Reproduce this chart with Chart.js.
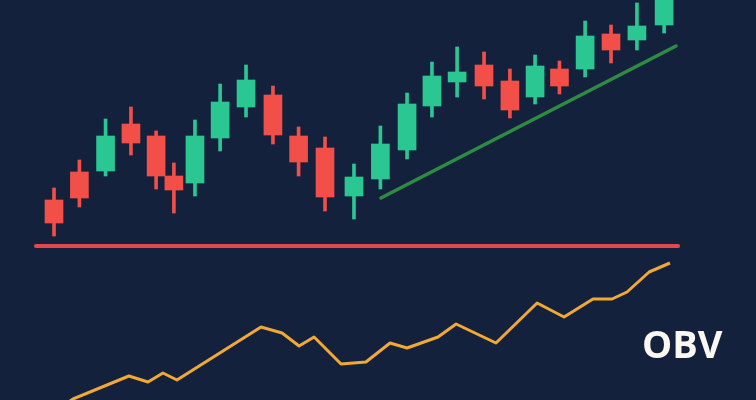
<!DOCTYPE html>
<html lang="en">
<head>
  <meta charset="UTF-8" />
  <title>OBV</title>
  <script src="https://cdn.jsdelivr.net/npm/chart.js"></script>
  <style>
    html, body {
      margin: 0;
      padding: 0;
      background-color: #14213d;
    }
    canvas {
      display: block;
    }
  </style>
</head>
<body>
  <canvas id="chart" width="756" height="400"></canvas>

  <script>
    // candles: day, open, high, low, close
    const days  = [1.00, 2.00, 3.03, 4.03, 5.02, 5.72, 6.55, 7.54, 8.56, 9.62, 10.63, 11.67, 12.81,
                   13.85, 14.90, 15.88, 16.87, 17.93, 18.95, 19.94, 20.90, 21.91, 22.93, 23.95, 25.02];
    const opens = [60.0, 65.6, 65.8, 75.2, 72.8, 64.8, 63.4, 72.4, 78.6, 81.0, 72.8, 70.4, 60.8,
                   64.2, 70.0, 78.8, 83.6, 87.0, 83.8, 80.6, 86.2, 86.2, 93.2, 92.0, 95.0];
    const highs = [62.4, 68.0, 76.2, 78.6, 73.8, 67.4, 76.0, 83.2, 87.0, 82.8, 74.6, 72.6, 67.2,
                   74.8, 81.4, 87.6, 90.6, 89.6, 86.2, 89.0, 87.8, 95.8, 95.0, 99.4, 101.6];
    const lows  = [52.8, 58.6, 64.8, 69.0, 62.2, 57.4, 60.8, 69.8, 76.6, 71.2, 64.8, 57.8, 56.2,
                   62.2, 68.2, 76.6, 80.6, 80.2, 76.4, 79.2, 81.2, 84.6, 87.4, 90.0, 93.4];
    const closes = [55.4, 60.4, 72.8, 71.4, 64.8, 62.0, 72.8, 79.6, 84.0, 73.0, 67.6, 60.6, 64.6,
                    71.2, 79.2, 84.8, 85.6, 82.8, 78.0, 86.8, 82.8, 92.8, 90.0, 94.8, 100.8];

    // support and trend lines
    const supportDays = [0.29, 25.57];
    const supportPrice = [50.8, 50.8];
    const trendDays = [13.87, 25.49];
    const trendPrice = [60.4, 90.8];

    // on-balance volume
    const obvDays = [1.45, 1.75, 3.95, 4.70, 5.29, 5.84, 9.15, 9.98, 10.65, 11.24, 12.30, 13.28,
                     14.23, 14.90, 16.12, 16.83, 18.40, 20.02, 21.08, 22.22, 22.97, 23.56, 24.43, 25.25];
    const obvValues = [-40, 10, 240, 180, 270, 200, 730, 670, 540, 630, 360, 380,
                       570, 520, 630, 760, 570, 970, 830, 1010, 1010, 1080, 1280, 1370];

    const UP = '#2ac792';
    const DOWN = '#f14f48';

    const candleColors = opens.map((o, i) => closes[i] >= o ? UP : DOWN);

    const labelPlugin = {
      id: 'obvLabel',
      afterDraw(chart) {
        const ctx = chart.ctx;
        ctx.save();
        ctx.fillStyle = '#fbf7f2';
        ctx.font = 'bold 38px "Open Sans"';
        ctx.textBaseline = 'alphabetic';
        ctx.fillText('OBV', 642, 358);
        ctx.restore();
      }
    };

    new Chart(document.getElementById('chart').getContext('2d'), {
      type: 'bar',
      data: {
        datasets: [
          {
            type: 'line',
            data: supportDays.map((d, i) => ({ x: d, y: supportPrice[i] })),
            yAxisID: 'y',
            borderColor: '#e5474c',
            borderWidth: 4,
            borderCapStyle: 'round',
            pointRadius: 0,
            order: 0
          },
          {
            type: 'line',
            data: trendDays.map((d, i) => ({ x: d, y: trendPrice[i] })),
            yAxisID: 'y',
            borderColor: '#2e8c42',
            borderWidth: 3.5,
            borderCapStyle: 'round',
            pointRadius: 0,
            order: 0
          },
          {
            type: 'line',
            data: obvDays.map((d, i) => ({ x: d, y: obvValues[i] })),
            yAxisID: 'obv',
            borderColor: '#f1a933',
            borderWidth: 3,
            borderJoinStyle: 'round',
            pointRadius: 0,
            tension: 0,
            order: 0
          },
          {
            // bodies
            data: days.map((d, i) => ({ x: d, y: [opens[i], closes[i]] })),
            yAxisID: 'y',
            backgroundColor: candleColors,
            barThickness: 18,
            borderWidth: 0,
            borderSkipped: false,
            grouped: false,
            order: 1
          },
          {
            // wicks
            data: days.map((d, i) => ({ x: d, y: [lows[i], highs[i]] })),
            yAxisID: 'y',
            backgroundColor: candleColors,
            barThickness: 3,
            borderWidth: 0,
            borderSkipped: false,
            grouped: false,
            order: 2
          }
        ]
      },
      options: {
        responsive: false,
        animation: false,
        layout: { padding: 0 },
        plugins: {
          legend: { display: false },
          tooltip: { enabled: false }
        },
        scales: {
          x: { type: 'linear', min: -1.126, max: 28.638, offset: false, display: false },
          y: { min: 20, max: 100, display: false },
          obv: { min: 0, max: 4000, display: false }
        }
      },
      plugins: [labelPlugin]
    });
  </script>
</body>
</html>
